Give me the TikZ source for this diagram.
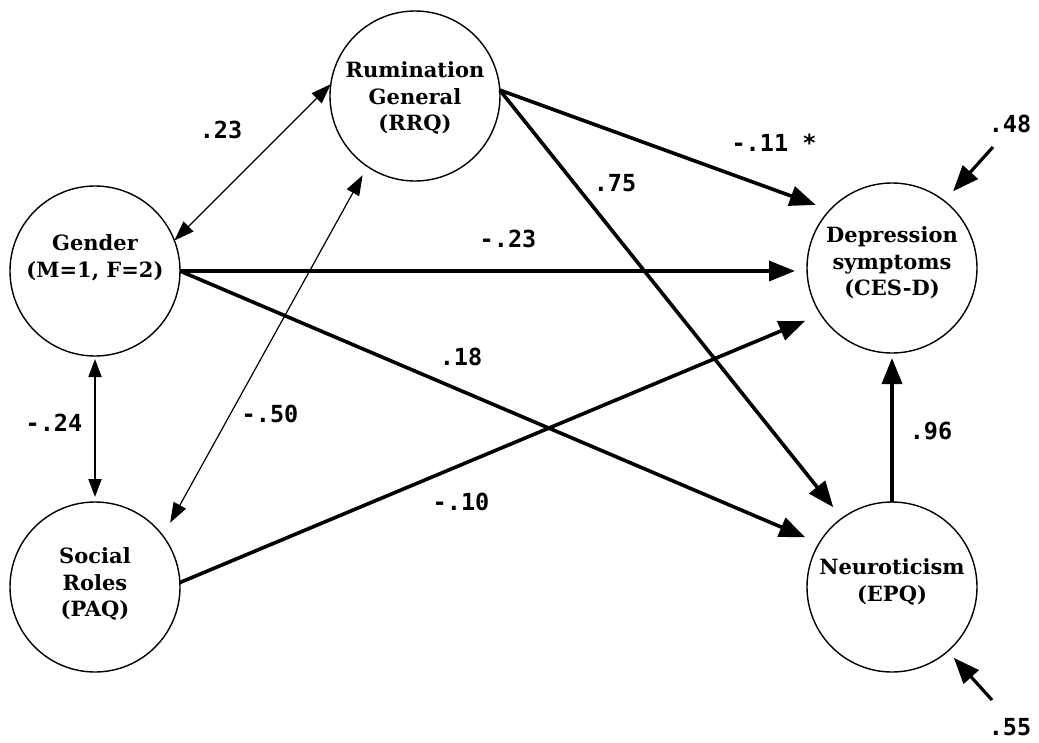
\documentclass[tikz,border=0pt]{standalone}
\usepackage{fontspec}
\usetikzlibrary{arrows.meta}
\newfontfamily\varfont{DejaVu Serif}
\newfontfamily\coeffont{DejaVu Sans Mono}

\tikzset{
  latent/.style={circle, draw, line width=1.4pt, minimum size=170pt, inner sep=0pt, outer sep=0pt},
  vartext/.style={align=center, inner sep=0pt, font=\varfont\bfseries\fontsize{21}{26.5}\selectfont},
  coef/.style={inner sep=0pt, font=\coeffont\bfseries\fontsize{23.5}{23.5}\selectfont},
  effect/.style={line width=3.6pt, -{Triangle[length=26pt,width=20pt]}},
  corr/.style={line width=1.2pt, {Triangle[length=20pt,width=14pt]}-{Triangle[length=20pt,width=14pt]}},
}

\begin{document}
\begin{tikzpicture}[x=1pt,y=-1pt]
\fill[white] (0,0) rectangle (1039,742);
\useasboundingbox (0,0) rectangle (1039,742);

% latent variables
\node[latent] (rum) at (415,96) {};
\node[latent] (gen) at (95,271) {};
\node[latent] (soc) at (95,587) {};
\node[latent] (dep) at (892,268) {};
\node[latent] (neu) at (892,587) {};

\node[vartext] (rum-t) at ([yshift=-2pt]rum.center) {Rumination\\General\\(RRQ)};
\node[vartext] (gen-t) at ([yshift=13pt]gen.center) {Gender\\(M=1, F=2)};
\node[vartext] (soc-t) at ([yshift=3pt]soc.center) {Social\\Roles\\(PAQ)};
\node[vartext] (dep-t) at ([yshift=5pt]dep.center) {Depression\\symptoms\\(CES-D)};
\node[vartext] (neu-t) at ([yshift=5pt]neu.center) {Neuroticism\\(EPQ)};

% correlations
\draw[corr] (gen.21) -- (rum.172);
\draw[corr, line width=1.8pt, {Triangle[length=18pt,width=13pt]}-{Triangle[length=18pt,width=13pt]},
      shorten <=3pt, shorten >=5pt] (gen.south) -- (soc.north);
\draw[corr, shorten <=10pt, shorten >=15pt] (rum.236) -- (soc.37);

% directed effects
\coordinate (rumout) at (rum.4);
\draw[effect, shorten >=15pt] (rumout) -- (dep.137);
\draw[effect, shorten >=14pt] (rumout) -- (neu.126);
\draw[effect, shorten >=12pt] (gen.east) -- (gen.east -| dep.west);
\draw[effect, shorten >=15pt] (gen.east) -- (neu.149);
\draw[effect, shorten >=17pt] (soc.3) -- (dep.213);
\draw[effect, shorten >=5pt] (neu.north) -- (dep.south);

% residuals
\coordinate (dep-err) at (993,147);
\coordinate (neu-err) at (992,700);
\draw[effect, line width=3.2pt, shorten >=13pt] (dep-err) -- (dep.52);
\draw[effect, line width=3.2pt, shorten >=9pt] (neu-err) -- (neu.-49);

% coefficients
\node[coef] (c-gr) at (221,130) {.23};
\node[coef] (c-gs) at (54,423) {-.24};
\node[coef] (c-rs) at (270,414) {-.50};
\node[coef] (c-rd) at (774,143) {-.11 *};
\node[coef] (c-rn) at (615,183) {.75};
\node[coef] (c-gd) at (508,239) {-.23};
\node[coef] (c-gn) at (461,357) {.18};
\node[coef] (c-sd) at (461,502) {-.10};
\node[coef] (c-nd) at (931,431) {.96};
\node[coef] (c-de) at (1010,124) {.48};
\node[coef] (c-ne) at (1010,727) {.55};
\end{tikzpicture}
\end{document}
